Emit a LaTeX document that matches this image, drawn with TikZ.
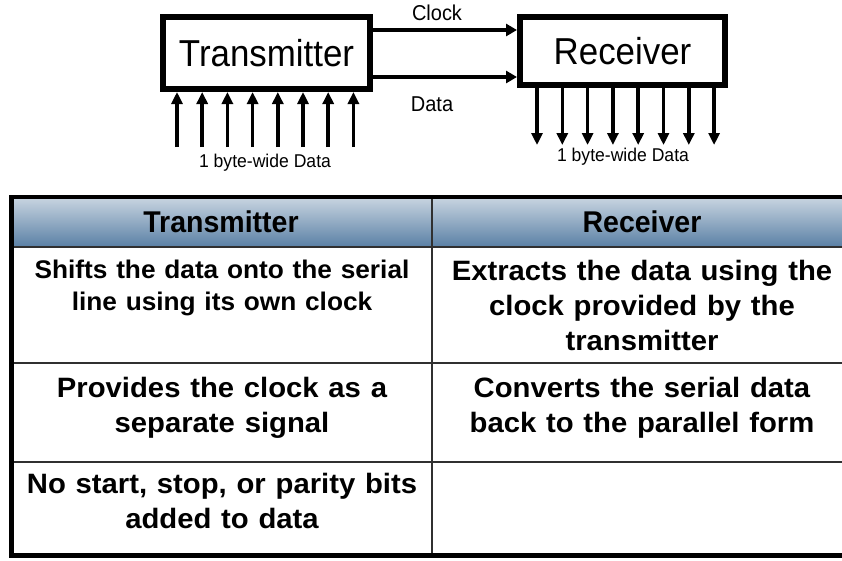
\documentclass[tikz,border=0pt]{standalone}
\usepackage{fontspec}
\setmainfont{Liberation Sans}
\usetikzlibrary{arrows.meta}

\definecolor{headtop}{HTML}{C9D5E1}
\definecolor{headbot}{HTML}{5A80A5}
\definecolor{gridline}{HTML}{303030}

\tikzset{
  unitbox/.style={draw=black, line width=6pt, fill=white, inner sep=0pt,
    font=\fontsize{37.5}{42}\selectfont},
  sigline/.style={line width=4pt, -{Triangle[length=11pt,width=12pt]}},
  bytearrow/.style={line width=3.5pt, -{Triangle[length=12pt,width=11pt]}},
  siglabel/.style={font=\fontsize{21.5}{24}\selectfont, inner sep=0pt, xscale=0.93, transform shape},
  bytelabel/.style={font=\fontsize{18.5}{20}\selectfont, inner sep=0pt, xscale=0.95, transform shape},
  headcell/.style={font=\fontsize{30}{32}\selectfont\bfseries, inner sep=0pt, xscale=0.95, transform shape},
  bodycell/.style={font=\fontsize{28}{35}\selectfont\bfseries, inner sep=0pt,
    text width=420pt, align=center, anchor=north, xscale=1.045, transform shape},
  smallcell/.style={bodycell, font=\fontsize{25.5}{32}\selectfont\bfseries, xscale=0.985},
  gridrule/.style={draw=gridline, line width=1.5pt},
  tableframe/.style={draw=black, line width=4.5pt}
}

\begin{document}
\begin{tikzpicture}[x=1pt, y=-1pt]
  \useasboundingbox (0,0) rectangle (842,560);
  \clip (0,0) rectangle (842,560);
  \fill[white] (0,0) rectangle (842,560);

  % ---- serial link: transmitter and receiver ----
  \node[unitbox, minimum width=207pt, minimum height=72pt] (tx) at (266.5,53)
    {\scalebox{0.93}[1]{Transmitter}};
  \node[unitbox, minimum width=205pt, minimum height=68pt] (rx) at (622.5,51)
    {\scalebox{0.93}[1]{Receiver}};

  \coordinate (clkA) at ([yshift=23pt]tx.east);
  \coordinate (datA) at ([yshift=-24pt]tx.east);
  \draw[sigline] (clkA) -- (clkA -| rx.west);
  \draw[sigline] (datA) -- (datA -| rx.west);
  \node[siglabel] (clk) at (437,13) {Clock};
  \node[siglabel] (dat) at (432,104) {Data};

  % parallel byte into the transmitter
  \foreach \i in {0,...,7} {
    \coordinate (tin\i) at (177+25.2*\i,147);
    \draw[bytearrow] (tin\i) -- (tin\i |- tx.south);
  }
  \node[bytelabel] (tbyte) at (265,163) {1 byte-wide Data};

  % parallel byte out of the receiver
  \foreach \i in {0,...,7} {
    \coordinate (rout\i) at (537+25.3*\i,145);
    \draw[bytearrow] (rout\i |- rx.south) -- (rout\i);
  }
  \node[bytelabel] (rbyte) at (623,157) {1 byte-wide Data};

  % ---- comparison table ----
  \shade[top color=headtop, bottom color=headbot] (10,197) rectangle (852,247);
  \draw[gridrule] (10,247) -- (852,247);
  \draw[gridrule] (10,363) -- (852,363);
  \draw[gridrule] (10,462) -- (852,462);
  \draw[gridrule] (432,197) -- (432,555);
  \draw[tableframe] (852,197) -- (11.5,197) -- (11.5,555.5) -- (852,555.5);

  \node[headcell] (h1) at (221,222) {Transmitter};
  \node[headcell] (h2) at (642,222) {Receiver};

  \node[smallcell] (c11) at (222,259.5) {Shifts the data onto the serial\\ line using its own clock};
  \node[bodycell] (c12) at (642,259.6) {Extracts the data using the\\ clock provided by the\\ transmitter};
  \node[bodycell] (c21) at (222,376.6) {Provides the clock as a\\ separate signal};
  \node[bodycell] (c22) at (642,376.6) {Converts the serial data\\ back to the parallel form};
  \node[bodycell] (c31) at (222,472.6) {No start, stop, or parity bits\\ added to data};
\end{tikzpicture}
\end{document}
